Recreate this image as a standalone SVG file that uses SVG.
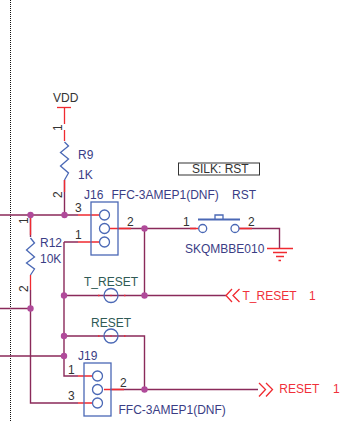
<svg xmlns="http://www.w3.org/2000/svg" width="360" height="422" viewBox="0 0 360 422">
<style>
text{font-family:"Liberation Sans",Arial,sans-serif;font-size:12px}
.k{fill:#333}.b{fill:#3a3d85}.g{fill:#2f5a55}.r{fill:#f0303a}
.w{fill:none;stroke:#8a2a5a;stroke-width:1.4}
.e{fill:none;stroke:#f02a30;stroke-width:1.3}
.s{fill:none;stroke:#4a68b5;stroke-width:1.3}
</style>
<rect width="360" height="422" fill="#fff"/>
<line x1="10.5" y1="0" x2="10.5" y2="422" stroke="#111" stroke-width="1" stroke-dasharray="1 1"/>
<g id="connectors">
<path class="w" d="M0 215H78M64.5 180V215M30.5 215V237M30.5 290V403H78M64 242H78M64 242V376H78M0 308.5H30.5M0 356H64M118 228.5H196M144.5 228.5V295.5M239 228.5H279.5V248.5M64 295.500H226M64 336H144.500V389.500M110 389.500H258"/>
<path class="e" d="M78 215H99M78 242H99M78 376H92M78 403H92M110 228.500H131M190 228.500H198M239 228.500H252M104 389.500H124M64.500 107V124M64.500 130V141M64.500 180V192M30.500 215V235M30.500 275V290"/>
<g fill="#b04a9a"><circle cx="30.500" cy="215" r="3.200"/><circle cx="64.500" cy="215" r="3.200"/><circle cx="144.500" cy="228.500" r="3.200"/><circle cx="64" cy="295.500" r="3.200"/><circle cx="144.500" cy="295.500" r="3.200"/><circle cx="30.500" cy="308.500" r="3.200"/><circle cx="64" cy="336" r="3.200"/><circle cx="64" cy="356" r="3.200"/><circle cx="144.500" cy="389.500" r="3.200"/></g>
</g>
<g id="VDD"><text class="k" x="53" y="102">VDD</text><line class="e" x1="57" y1="107.500" x2="71" y2="107.500"/><text class="k" transform="translate(62,131) rotate(-90)">1</text></g>
<g id="R9"><path class="s" d="M64.500 142L68.500 146L60.500 152.500L68.500 159L60.500 166L68.500 173L64.500 180"/><text class="b" x="78" y="159">R9</text><text class="b" x="78" y="179">1K</text><text class="k" transform="translate(62,198) rotate(-90)">2</text></g>
<g id="R12"><path class="s" d="M30.500 238L34.500 243L26.500 250L34.500 257L26.500 263L34.500 269L30.500 275"/><text class="b" x="40" y="247">R12</text><text class="b" x="40" y="263">10K</text><text class="k" transform="translate(28,224) rotate(-90)">1</text><text class="k" transform="translate(28,292) rotate(-90)">2</text></g>
<g id="J16"><rect class="s" x="91" y="202" width="27" height="53"/><circle class="s" cx="104.500" cy="215" r="5"/><circle class="s" cx="104.500" cy="228.500" r="5"/><circle class="s" cx="104.500" cy="242" r="5"/><text class="b" x="84" y="199">J16</text><text class="b" x="111.500" y="199">FFC-3AMEP1(DNF)</text><text class="k" x="75" y="212">3</text><text class="k" x="75" y="239">1</text><text class="k" x="127" y="226">2</text></g>
<g id="SILK"><rect x="178.500" y="163" width="81" height="12" fill="none" stroke="#333" stroke-width="1"/><text class="k" x="192" y="173">SILK: RST</text></g>
<g id="RST"><line x1="198" y1="219.500" x2="240" y2="219.500" stroke="#4a68b5" stroke-width="2"/><path class="s" d="M215 219V215H223V219"/><circle class="s" cx="202.700" cy="228.500" r="4"/><circle class="s" cx="235" cy="228.500" r="4"/><text class="b" x="232" y="199">RST</text><text class="k" x="183" y="226">1</text><text class="k" x="248" y="226">2</text><text class="b" x="185" y="253">SKQMBBE010</text></g>
<g id="GND"><path class="e" d="M267 248.500H293M273 252.500H287M276 256.500H284M278.500 260.500H281"/></g>
<g id="T_RESET_TP"><circle class="s" cx="111" cy="295.500" r="7"/><path class="e" d="M98 295.500H99.500M110.500 295.500H111.500M124 295.500H125.500"/><text class="g" x="84" y="286">T_RESET</text></g>
<g id="RESET_TP"><circle class="s" cx="111" cy="336" r="7"/><path class="e" d="M98 336H99.500M110.500 336H111.500M124 336H125.500"/><text class="g" x="91" y="327">RESET</text></g>
<g id="J19"><rect class="s" x="84" y="363" width="27" height="53"/><circle class="s" cx="97.500" cy="376" r="5"/><circle class="s" cx="97.500" cy="389.500" r="5"/><circle class="s" cx="97.500" cy="403" r="5"/><text class="b" x="78" y="360">J19</text><text class="b" x="118.500" y="414">FFC-3AMEP1(DNF)</text><text class="k" x="68" y="374">1</text><text class="k" x="68" y="400">3</text><text class="k" x="120" y="387">2</text></g>
<g id="T_RESET_port"><path class="e" d="M232 289L226 295.500L232 302M239.500 289L233 295.500L239.500 302"/><text class="r" x="242.500" y="300">T_RESET</text><text class="r" x="309" y="300">1</text></g>
<g id="RESET_port"><path class="e" d="M259 383L265.500 389.500L259 396.500M266 383L272.500 389.500L266 396.500"/><text class="r" x="279.300" y="393">RESET</text><text class="r" x="333" y="393">1</text></g>
</svg>
